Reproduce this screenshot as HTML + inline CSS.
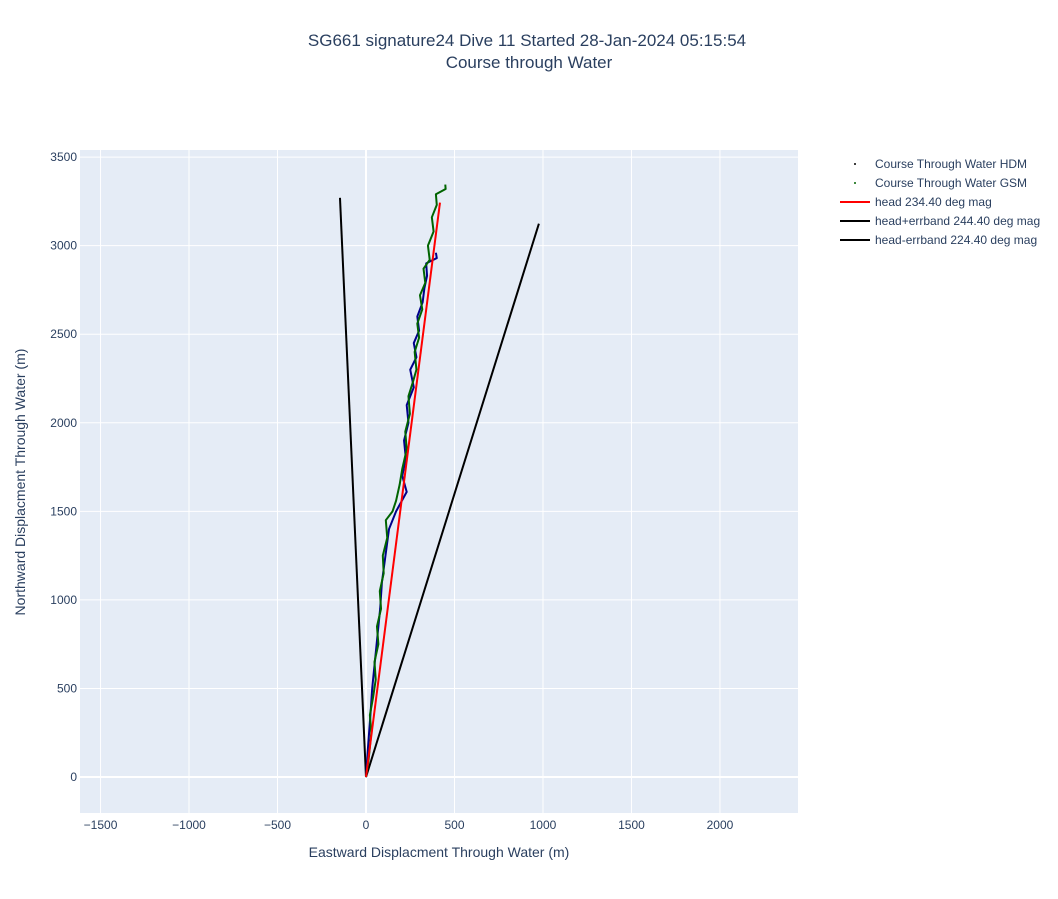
<!DOCTYPE html>
<html><head><meta charset="utf-8"><style>
body{margin:0;background:#fff;font-family:"Liberation Sans",Arial,sans-serif;}
svg text{font-family:"Liberation Sans",Arial,sans-serif;fill:#2a3f5f;}
</style></head><body>
<svg id="chart" width="1058" height="894" xmlns="http://www.w3.org/2000/svg">
<text x="527" y="46" text-anchor="middle" font-size="17">SG661 signature24 Dive 11 Started 28-Jan-2024 05:15:54</text>
<text x="529" y="68" text-anchor="middle" font-size="17">Course through Water</text>
<rect x="80" y="150" width="718" height="663" fill="#e5ecf6"/>
<g id="grid"></g><g id="series"></g><g id="ticks"></g>
<text x="439" y="857" text-anchor="middle" font-size="14">Eastward Displacment Through Water (m)</text>
<text transform="translate(25,482) rotate(-90)" text-anchor="middle" font-size="14">Northward Displacment Through Water (m)</text>
<g font-size="12">
<circle cx="855" cy="164" r="1" fill="#000"/><text x="875" y="168">Course Through Water HDM</text>
<circle cx="855" cy="183" r="1" fill="#006400"/><text x="875" y="187">Course Through Water GSM</text>
<line x1="840" x2="870" y1="202" y2="202" stroke="red" stroke-width="2"/><text x="875" y="206">head 234.40 deg mag</text>
<line x1="840" x2="870" y1="221" y2="221" stroke="#000" stroke-width="2"/><text x="875" y="225">head+errband 244.40 deg mag</text>
<line x1="840" x2="870" y1="240" y2="240" stroke="#000" stroke-width="2"/><text x="875" y="244">head-errband 224.40 deg mag</text>
</g>
</svg>
<script>
const xTicks=[-1500,-1000,-500,0,500,1000,1500,2000];
const yTicks=[0,500,1000,1500,2000,2500,3000,3500];
const hdmX=[0,10,25,35,50,65,80,90,110,130,170,230,205,225,215,240,230,270,250,285,270,300,290,320,330,345,340,400,395];
const hdmY=[0,150,350,500,650,800,950,1100,1250,1400,1500,1610,1700,1800,1900,2000,2100,2200,2300,2370,2450,2520,2600,2680,2760,2830,2900,2930,2960];
const gsmX=[0,15,30,22,40,55,48,70,62,85,78,100,95,120,112,150,170,190,205,230,222,248,240,265,285,275,300,290,318,305,335,325,360,350,382,372,400,395,450,448];
const gsmY=[0,100,250,350,450,550,650,750,850,950,1050,1150,1250,1350,1450,1500,1560,1650,1740,1850,1950,2050,2150,2230,2300,2400,2480,2560,2640,2720,2790,2870,2920,3000,3080,3160,3230,3290,3320,3345];
const headX=[0,418], headY=[0,3243];
const plusX=[0,977], plusY=[0,3124];
const minusX=[0,-147], minusY=[0,3270];
const X0=80,X1=798,Y0=813,Y1=150,xmin=-1616,xmax=2441,ymin=-203,ymax=3540;
const sx=v=>X0+(v-xmin)/(xmax-xmin)*(X1-X0);
const sy=v=>Y0-(v-ymin)/(ymax-ymin)*(Y0-Y1);
const NS="http://www.w3.org/2000/svg";
function mk(tag,parent,attrs){const e=document.createElementNS(NS,tag);for(const k in attrs)e.setAttribute(k,attrs[k]);parent.appendChild(e);return e;}
const grid=document.getElementById('grid'),ticks=document.getElementById('ticks'),ser=document.getElementById('series');
xTicks.forEach(t=>{const l=mk('line',grid,{x1:sx(t),x2:sx(t),y1:Y1,y2:Y0,stroke:'#fff','stroke-width':t===0?2:1});


const tx=mk('text',ticks,{x:sx(t),y:829,'text-anchor':'middle','font-size':12});tx.textContent=t<0?'\u2212'+(-t):t;

});
yTicks.forEach(t=>{const l=mk('line',grid,{x1:X0,x2:X1,y1:sy(t),y2:sy(t),stroke:'#fff','stroke-width':t===0?2:1});


const tx=mk('text',ticks,{x:77,y:sy(t)+4,'text-anchor':'end','font-size':12});tx.textContent=t;

});
function line(xs,ys,color,name){const p=mk('polyline',ser,{points:xs.map((x,i)=>sx(x)+','+sy(ys[i])).join(' '),fill:'none',stroke:color,'stroke-width':2,'stroke-linejoin':'round'});

}
line(minusX,minusY,'#000','head-errband-line');
line(plusX,plusY,'#000','head-plus-errband-line');
line(hdmX,hdmY,'#00008b','hdm-track');
line(gsmX,gsmY,'#006400','gsm-track');
line(headX,headY,'red','head-line');
</script>
</body></html>
